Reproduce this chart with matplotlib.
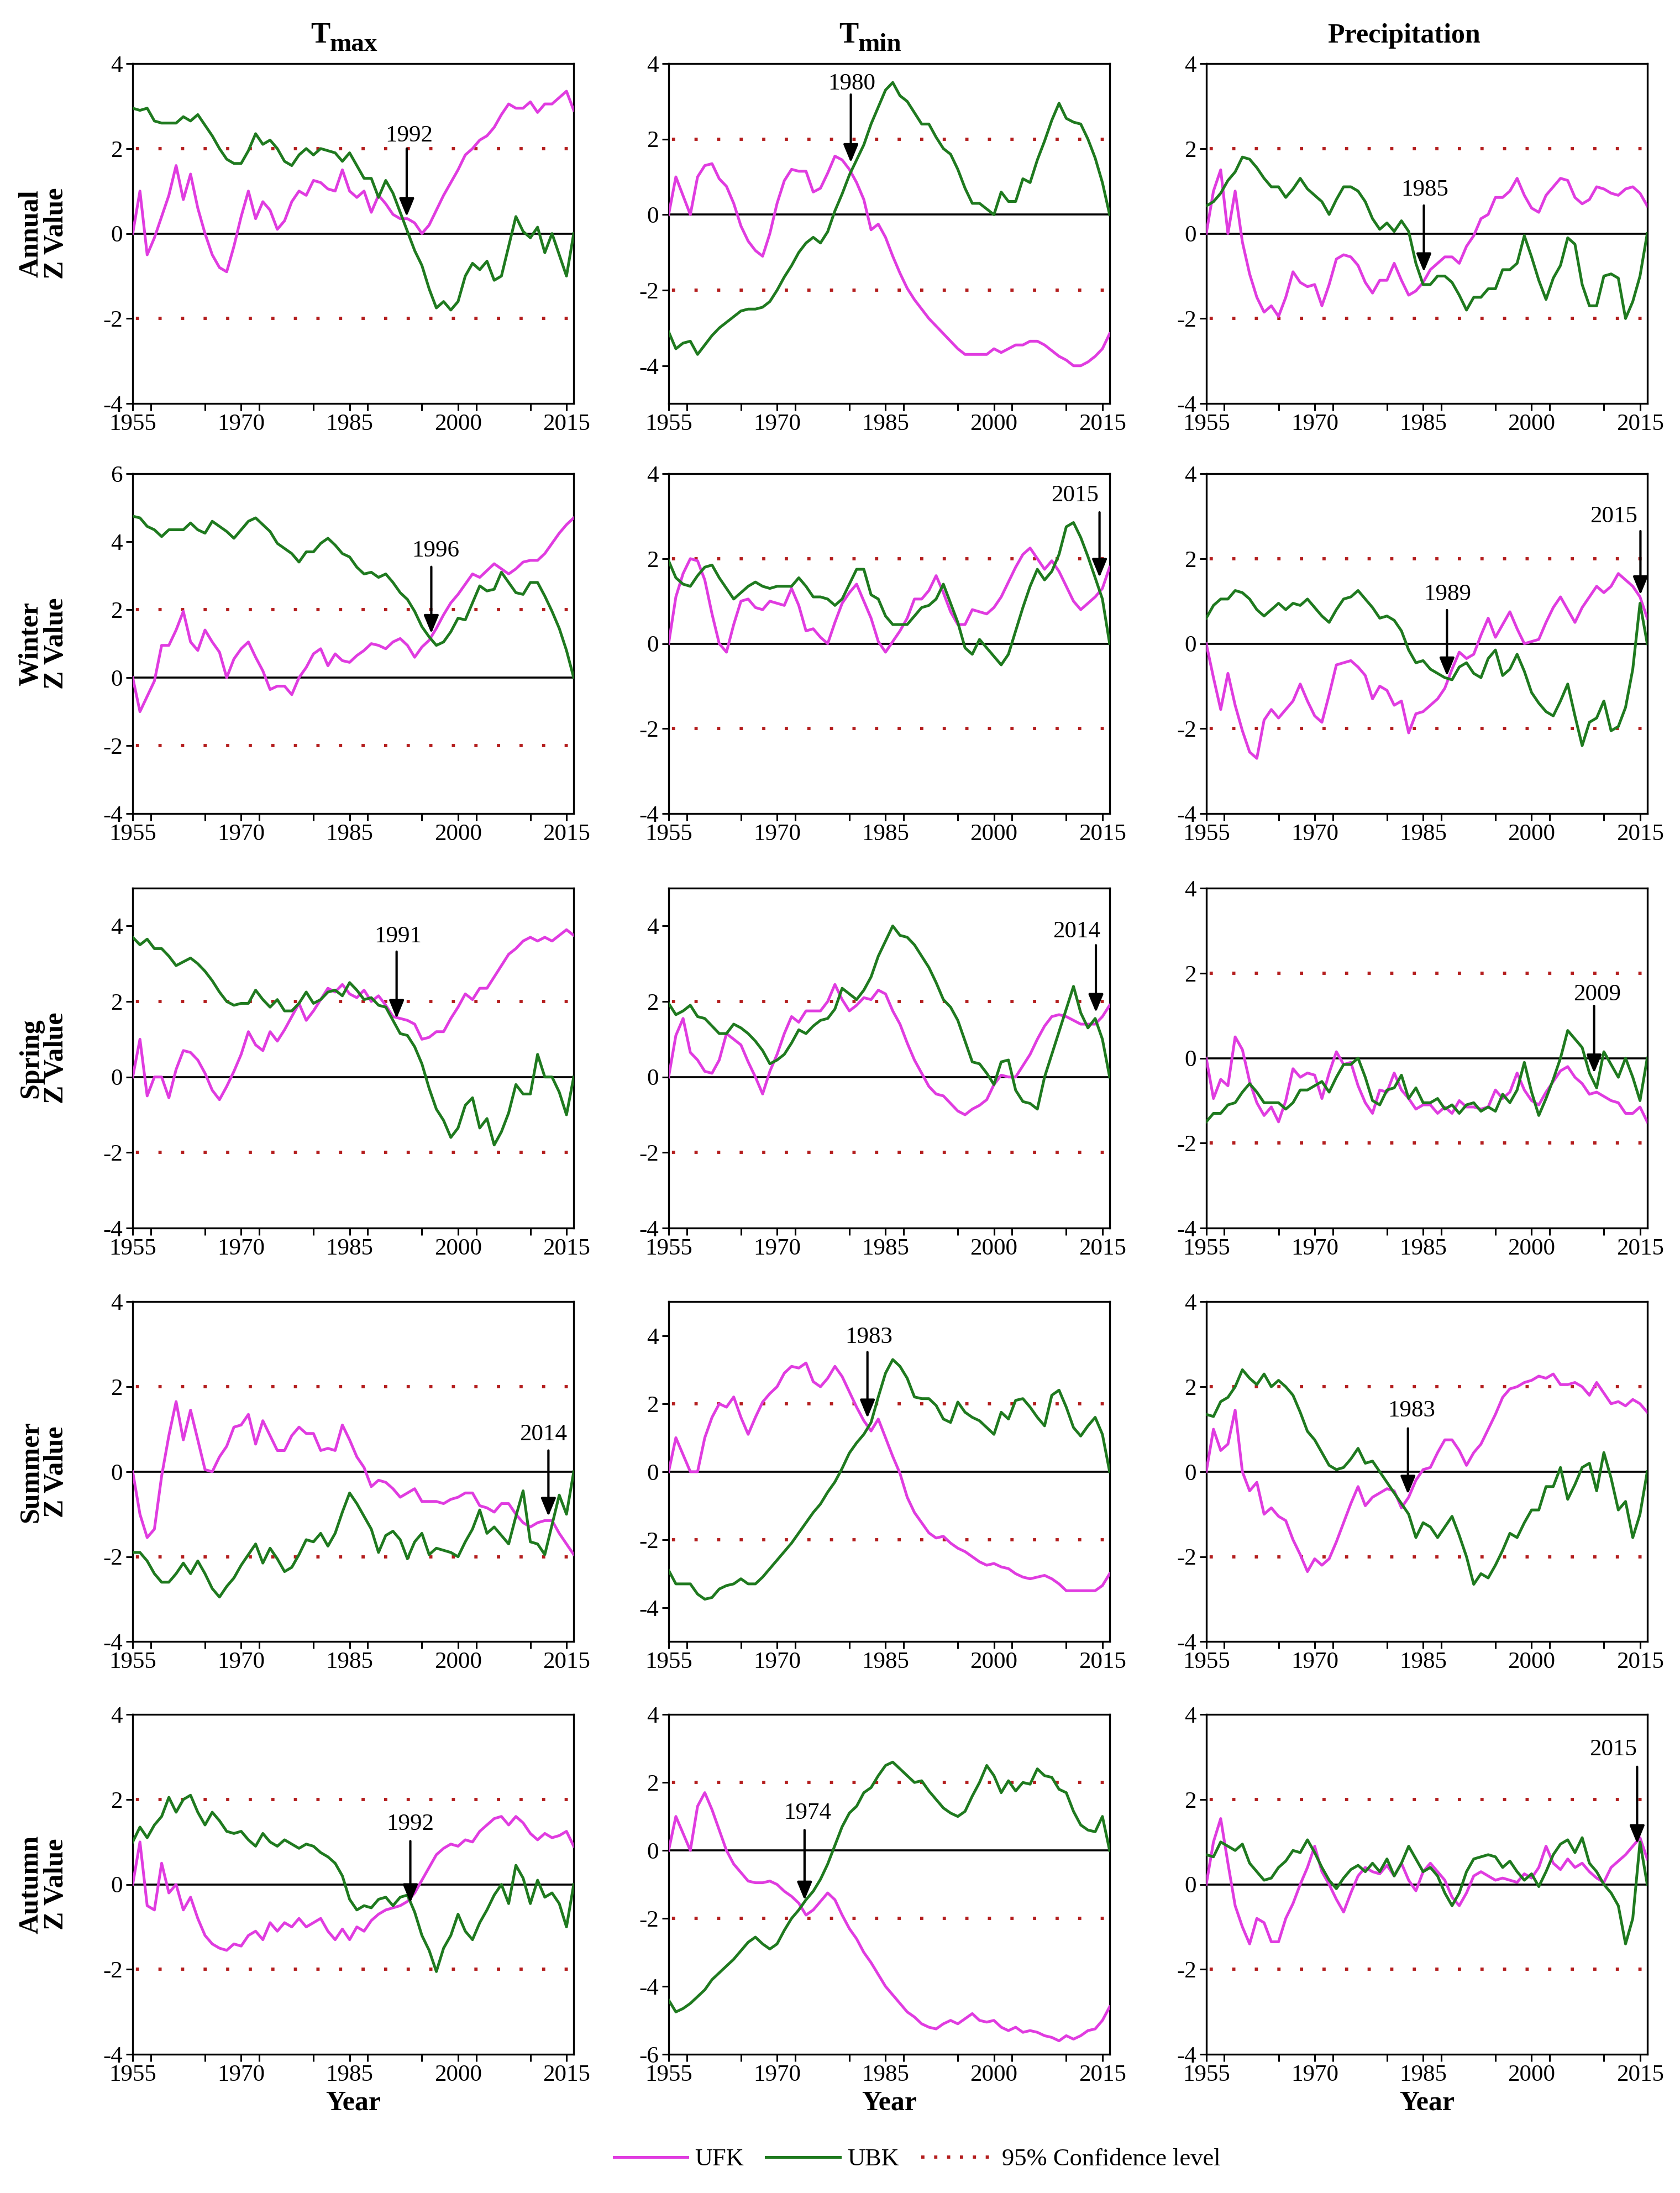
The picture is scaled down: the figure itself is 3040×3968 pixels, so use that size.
import numpy as np
import matplotlib
matplotlib.use("agg")
import matplotlib.pyplot as plt
from matplotlib.lines import Line2D
from matplotlib.ticker import MultipleLocator

YEARS = np.arange(1955, 2017)

# ---- Annual ----
annual_tmax_ufk = [0.0, 1.0, -0.5, -0.1, 0.4, 0.9, 1.6, 0.8, 1.4, 0.6,
                   0.0, -0.5, -0.8, -0.9, -0.3, 0.4, 1.0, 0.35, 0.75, 0.55,
                   0.1, 0.3, 0.75, 1.0, 0.9, 1.25, 1.2, 1.05, 1.0, 1.5,
                   1.0, 0.85, 1.0, 0.5, 0.9, 0.7, 0.45, 0.35, 0.35, 0.25,
                   0.0, 0.2, 0.55, 0.9, 1.2, 1.5, 1.85, 2.0, 2.2, 2.3,
                   2.5, 2.8, 3.05, 2.95, 2.95, 3.1, 2.85, 3.05, 3.05, 3.2,
                   3.35, 2.9]
annual_tmax_ubk = [2.95, 2.9, 2.95, 2.65, 2.6, 2.6, 2.6, 2.75, 2.65, 2.8,
                   2.55, 2.3, 2.0, 1.75, 1.65, 1.65, 1.95, 2.35, 2.1, 2.2,
                   2.0, 1.7, 1.6, 1.85, 2.0, 1.85, 2.0, 1.95, 1.9, 1.7,
                   1.9, 1.6, 1.3, 1.3, 0.85, 1.25, 0.95, 0.5, 0.05, -0.4,
                   -0.75, -1.3, -1.75, -1.6, -1.8, -1.6, -1.0, -0.7, -0.85, -0.65,
                   -1.1, -1.0, -0.3, 0.4, 0.05, -0.1, 0.15, -0.45, 0.0, -0.5,
                   -1.0, 0.0]
annual_tmin_ufk = [0.0, 1.0, 0.5, 0.0, 1.0, 1.3, 1.35, 0.95, 0.75, 0.3,
                   -0.3, -0.7, -0.95, -1.1, -0.5, 0.3, 0.9, 1.2, 1.15, 1.15,
                   0.6, 0.7, 1.1, 1.55, 1.45, 1.2, 0.85, 0.4, -0.4, -0.25,
                   -0.6, -1.1, -1.55, -1.95, -2.25, -2.5, -2.75, -2.95, -3.15, -3.35,
                   -3.55, -3.7, -3.7, -3.7, -3.7, -3.55, -3.65, -3.55, -3.45, -3.45,
                   -3.35, -3.35, -3.45, -3.6, -3.75, -3.85, -4.0, -4.0, -3.9, -3.75,
                   -3.55, -3.15]
annual_tmin_ubk = [-3.1, -3.55, -3.4, -3.35, -3.7, -3.45, -3.2, -3.0, -2.85, -2.7,
                   -2.55, -2.5, -2.5, -2.45, -2.3, -2.0, -1.65, -1.35, -1.0, -0.75,
                   -0.6, -0.75, -0.45, 0.1, 0.55, 1.05, 1.45, 1.85, 2.4, 2.85,
                   3.3, 3.5, 3.15, 3.0, 2.7, 2.4, 2.4, 2.05, 1.75, 1.6,
                   1.2, 0.7, 0.3, 0.3, 0.15, 0.0, 0.6, 0.35, 0.35, 0.95,
                   0.85, 1.45, 1.95, 2.5, 2.95, 2.55, 2.45, 2.4, 2.0, 1.5,
                   0.85, 0.0]
annual_prec_ufk = [0.0, 1.0, 1.5, 0.0, 1.0, -0.2, -0.95, -1.5, -1.85, -1.7,
                   -1.95, -1.5, -0.9, -1.15, -1.25, -1.2, -1.7, -1.2, -0.6, -0.5,
                   -0.55, -0.75, -1.15, -1.4, -1.1, -1.1, -0.7, -1.1, -1.45, -1.35,
                   -1.15, -0.85, -0.7, -0.55, -0.55, -0.7, -0.3, -0.05, 0.35, 0.45,
                   0.85, 0.85, 1.0, 1.3, 0.9, 0.6, 0.5, 0.9, 1.1, 1.3,
                   1.25, 0.85, 0.7, 0.8, 1.1, 1.05, 0.95, 0.9, 1.05, 1.1,
                   0.95, 0.65]
annual_prec_ubk = [0.65, 0.75, 0.95, 1.25, 1.45, 1.8, 1.75, 1.55, 1.3, 1.1,
                   1.1, 0.85, 1.05, 1.3, 1.05, 0.9, 0.75, 0.45, 0.8, 1.1,
                   1.1, 1.0, 0.75, 0.35, 0.1, 0.25, 0.05, 0.3, 0.05, -0.7,
                   -1.2, -1.2, -1.0, -1.0, -1.15, -1.45, -1.8, -1.5, -1.5, -1.3,
                   -1.3, -0.85, -0.85, -0.7, -0.05, -0.55, -1.1, -1.55, -1.05, -0.75,
                   -0.1, -0.25, -1.2, -1.7, -1.7, -1.0, -0.95, -1.05, -2.0, -1.6,
                   -1.0, 0.0]

# ---- Winter ----
winter_tmax_ufk = [0.0, -1.0, -0.55, -0.1, 0.95, 0.95, 1.4, 1.95, 1.05, 0.8,
                   1.4, 1.05, 0.75, 0.0, 0.55, 0.85, 1.05, 0.6, 0.2, -0.35,
                   -0.25, -0.25, -0.5, 0.0, 0.3, 0.7, 0.85, 0.35, 0.7, 0.5,
                   0.45, 0.65, 0.8, 1.0, 0.95, 0.85, 1.05, 1.15, 0.95, 0.6,
                   0.9, 1.1, 1.45, 1.85, 2.2, 2.45, 2.75, 3.05, 2.95, 3.15,
                   3.35, 3.2, 3.05, 3.2, 3.4, 3.45, 3.45, 3.65, 3.95, 4.25,
                   4.5, 4.7]
winter_tmax_ubk = [4.75, 4.7, 4.45, 4.35, 4.15, 4.35, 4.35, 4.35, 4.55, 4.35,
                   4.25, 4.6, 4.45, 4.3, 4.1, 4.35, 4.6, 4.7, 4.5, 4.3,
                   3.95, 3.8, 3.65, 3.4, 3.7, 3.7, 3.95, 4.1, 3.9, 3.65,
                   3.55, 3.25, 3.05, 3.1, 2.95, 3.05, 2.8, 2.5, 2.3, 1.95,
                   1.5, 1.2, 0.95, 1.05, 1.35, 1.75, 1.7, 2.2, 2.7, 2.55,
                   2.6, 3.1, 2.8, 2.5, 2.45, 2.8, 2.8, 2.4, 1.95, 1.45,
                   0.8, 0.0]
winter_tmin_ufk = [0.0, 1.1, 1.65, 2.0, 1.95, 1.5, 0.7, 0.0, -0.2, 0.45,
                   1.0, 1.05, 0.85, 0.8, 1.0, 0.95, 0.9, 1.3, 0.9, 0.3,
                   0.35, 0.15, 0.0, 0.5, 0.95, 1.2, 1.4, 1.0, 0.6, 0.05,
                   -0.2, 0.05, 0.3, 0.6, 1.05, 1.05, 1.25, 1.6, 1.2, 0.75,
                   0.45, 0.45, 0.8, 0.75, 0.7, 0.85, 1.1, 1.45, 1.8, 2.1,
                   2.25, 2.0, 1.75, 1.95, 1.7, 1.35, 1.0, 0.8, 0.95, 1.1,
                   1.3, 1.8]
winter_tmin_ubk = [1.95, 1.55, 1.4, 1.35, 1.6, 1.8, 1.85, 1.55, 1.3, 1.05,
                   1.2, 1.35, 1.45, 1.35, 1.3, 1.35, 1.35, 1.35, 1.55, 1.35,
                   1.1, 1.1, 1.05, 0.9, 1.05, 1.4, 1.75, 1.75, 1.15, 1.05,
                   0.65, 0.45, 0.45, 0.45, 0.65, 0.85, 0.9, 1.05, 1.4, 0.95,
                   0.5, -0.1, -0.25, 0.1, -0.1, -0.3, -0.5, -0.25, 0.3, 0.85,
                   1.35, 1.75, 1.5, 1.7, 2.1, 2.75, 2.85, 2.5, 2.05, 1.55,
                   1.05, 0.0]
winter_prec_ufk = [0.0, -0.8, -1.55, -0.7, -1.45, -2.05, -2.55, -2.7, -1.8, -1.55,
                   -1.75, -1.55, -1.35, -0.95, -1.35, -1.7, -1.85, -1.2, -0.5, -0.45,
                   -0.4, -0.55, -0.75, -1.3, -1.0, -1.1, -1.45, -1.35, -2.1, -1.65,
                   -1.6, -1.45, -1.3, -1.05, -0.6, -0.2, -0.35, -0.25, 0.2, 0.6,
                   0.15, 0.45, 0.75, 0.35, 0.0, 0.05, 0.1, 0.5, 0.85, 1.1,
                   0.8, 0.5, 0.85, 1.1, 1.35, 1.2, 1.35, 1.65, 1.5, 1.35,
                   1.1, 0.6]
winter_prec_ubk = [0.6, 0.9, 1.05, 1.05, 1.25, 1.2, 1.05, 0.8, 0.65, 0.8,
                   0.95, 0.8, 0.95, 0.9, 1.05, 0.85, 0.65, 0.5, 0.8, 1.05,
                   1.1, 1.25, 1.05, 0.85, 0.6, 0.65, 0.55, 0.3, -0.15, -0.45,
                   -0.4, -0.6, -0.7, -0.8, -0.85, -0.55, -0.45, -0.7, -0.8, -0.35,
                   -0.15, -0.75, -0.6, -0.25, -0.65, -1.15, -1.4, -1.6, -1.7, -1.35,
                   -0.95, -1.7, -2.4, -1.85, -1.75, -1.35, -2.05, -1.95, -1.5, -0.6,
                   0.95, 0.0]

# ---- Spring ----
spring_tmax_ufk = [0.0, 1.0, -0.5, 0.0, 0.0, -0.55, 0.2, 0.7, 0.65, 0.45,
                   0.1, -0.35, -0.6, -0.25, 0.15, 0.6, 1.2, 0.85, 0.7, 1.2,
                   0.95, 1.25, 1.6, 1.95, 1.5, 1.75, 2.05, 2.35, 2.25, 2.45,
                   2.2, 2.1, 2.3, 2.0, 2.15, 1.9, 1.6, 1.55, 1.5, 1.4,
                   1.0, 1.05, 1.2, 1.2, 1.55, 1.85, 2.2, 2.05, 2.35, 2.35,
                   2.65, 2.95, 3.25, 3.4, 3.6, 3.7, 3.6, 3.7, 3.6, 3.75,
                   3.9, 3.75]
spring_tmax_ubk = [3.7, 3.5, 3.65, 3.4, 3.4, 3.2, 2.95, 3.05, 3.15, 3.0,
                   2.8, 2.55, 2.25, 2.0, 1.9, 1.95, 1.95, 2.3, 2.05, 1.85,
                   2.05, 1.75, 1.75, 1.95, 2.25, 1.95, 2.05, 2.25, 2.3, 2.15,
                   2.5, 2.3, 2.05, 2.1, 1.9, 1.85, 1.5, 1.15, 1.1, 0.8,
                   0.35, -0.3, -0.85, -1.15, -1.6, -1.35, -0.75, -0.55, -1.35, -1.1,
                   -1.8, -1.45, -0.95, -0.2, -0.45, -0.45, 0.6, 0.0, 0.0, -0.4,
                   -1.0, 0.0]
spring_tmin_ufk = [0.0, 1.1, 1.55, 0.65, 0.45, 0.15, 0.1, 0.45, 1.15, 1.0,
                   0.85, 0.4, 0.0, -0.45, 0.15, 0.6, 1.15, 1.6, 1.45, 1.75,
                   1.75, 1.75, 2.0, 2.45, 2.05, 1.75, 1.9, 2.1, 2.05, 2.3,
                   2.2, 1.75, 1.4, 0.9, 0.45, 0.1, -0.25, -0.45, -0.5, -0.7,
                   -0.9, -1.0, -0.85, -0.75, -0.6, -0.2, 0.05, 0.0, 0.0, 0.3,
                   0.6, 1.0, 1.35, 1.6, 1.65, 1.6, 1.5, 1.4, 1.4, 1.4,
                   1.6, 1.9]
spring_tmin_ubk = [1.95, 1.65, 1.75, 1.9, 1.6, 1.55, 1.35, 1.15, 1.15, 1.4,
                   1.3, 1.15, 0.95, 0.7, 0.35, 0.45, 0.6, 0.9, 1.25, 1.15,
                   1.35, 1.5, 1.55, 1.8, 2.35, 2.2, 2.05, 2.3, 2.65, 3.2,
                   3.6, 4.0, 3.75, 3.7, 3.5, 3.2, 2.9, 2.5, 2.05, 1.85,
                   1.5, 0.95, 0.4, 0.35, 0.1, -0.2, 0.4, 0.45, -0.35, -0.65,
                   -0.7, -0.85, 0.0, 0.6, 1.2, 1.8, 2.4, 1.7, 1.3, 1.55,
                   1.0, 0.0]
spring_prec_ufk = [0.0, -0.95, -0.5, -0.65, 0.5, 0.2, -0.55, -1.05, -1.35, -1.15,
                   -1.5, -1.0, -0.25, -0.45, -0.35, -0.4, -0.95, -0.35, 0.15, -0.15,
                   -0.1, -0.65, -1.05, -1.3, -0.75, -0.8, -0.35, -0.75, -0.95, -1.2,
                   -1.1, -1.1, -1.3, -1.15, -1.3, -1.0, -1.15, -1.15, -1.2, -1.15,
                   -0.75, -0.95, -0.8, -0.35, -0.75, -1.0, -1.1, -0.8, -0.55, -0.3,
                   -0.2, -0.45, -0.6, -0.85, -0.8, -0.9, -1.0, -1.05, -1.3, -1.3,
                   -1.15, -1.5]
spring_prec_ubk = [-1.5, -1.3, -1.3, -1.1, -1.05, -0.8, -0.6, -0.8, -1.05, -1.05,
                   -1.05, -1.2, -1.05, -0.75, -0.75, -0.65, -0.55, -0.8, -0.45, -0.15,
                   -0.15, 0.0, -0.45, -1.0, -1.1, -0.75, -0.7, -0.4, -0.95, -0.7,
                   -1.05, -1.05, -0.95, -1.2, -1.1, -1.3, -1.1, -1.05, -1.25, -1.15,
                   -1.25, -0.85, -1.05, -0.75, -0.1, -0.8, -1.35, -0.95, -0.5, 0.0,
                   0.65, 0.45, 0.25, -0.35, -0.7, 0.15, -0.15, -0.45, 0.0, -0.45,
                   -1.0, 0.0]

# ---- Summer ----
summer_tmax_ufk = [0.0, -1.0, -1.55, -1.35, -0.1, 0.85, 1.65, 0.75, 1.45, 0.75,
                   0.05, 0.0, 0.35, 0.6, 1.05, 1.1, 1.35, 0.65, 1.2, 0.85,
                   0.5, 0.5, 0.85, 1.05, 0.9, 0.9, 0.5, 0.55, 0.5, 1.1,
                   0.75, 0.35, 0.1, -0.35, -0.2, -0.25, -0.4, -0.6, -0.5, -0.4,
                   -0.7, -0.7, -0.7, -0.75, -0.65, -0.6, -0.5, -0.5, -0.8, -0.85,
                   -0.95, -0.75, -0.75, -1.0, -1.2, -1.3, -1.2, -1.15, -1.15, -1.45,
                   -1.7, -1.95]
summer_tmax_ubk = [-1.9, -1.9, -2.1, -2.4, -2.6, -2.6, -2.4, -2.15, -2.4, -2.1,
                   -2.4, -2.75, -2.95, -2.7, -2.5, -2.2, -1.95, -1.7, -2.15, -1.8,
                   -2.05, -2.35, -2.25, -1.95, -1.6, -1.65, -1.45, -1.75, -1.45, -0.95,
                   -0.5, -0.75, -1.05, -1.35, -1.9, -1.5, -1.4, -1.6, -2.05, -1.65,
                   -1.45, -1.95, -1.8, -1.85, -1.9, -2.0, -1.65, -1.35, -0.9, -1.45,
                   -1.3, -1.5, -1.7, -1.05, -0.45, -1.65, -1.7, -1.95, -1.25, -0.55,
                   -1.0, 0.0]
summer_tmin_ufk = [0.0, 1.0, 0.5, 0.0, 0.0, 1.0, 1.6, 2.0, 1.9, 2.2,
                   1.6, 1.1, 1.6, 2.05, 2.3, 2.5, 2.9, 3.1, 3.05, 3.2,
                   2.65, 2.5, 2.75, 3.1, 2.8, 2.35, 1.9, 1.5, 1.2, 1.55,
                   1.0, 0.45, -0.05, -0.75, -1.2, -1.5, -1.8, -1.95, -1.9, -2.1,
                   -2.25, -2.35, -2.5, -2.65, -2.75, -2.7, -2.8, -2.85, -3.0, -3.1,
                   -3.15, -3.1, -3.05, -3.15, -3.3, -3.5, -3.5, -3.5, -3.5, -3.5,
                   -3.35, -3.0]
summer_tmin_ubk = [-2.9, -3.3, -3.3, -3.3, -3.6, -3.75, -3.7, -3.45, -3.35, -3.3,
                   -3.15, -3.3, -3.3, -3.1, -2.85, -2.6, -2.35, -2.1, -1.8, -1.5,
                   -1.2, -0.95, -0.6, -0.3, 0.1, 0.55, 0.85, 1.1, 1.45, 2.2,
                   2.9, 3.3, 3.1, 2.75, 2.2, 2.15, 2.15, 1.95, 1.55, 1.45,
                   2.05, 1.75, 1.6, 1.5, 1.3, 1.1, 1.75, 1.55, 2.1, 2.15,
                   1.9, 1.6, 1.35, 2.25, 2.4, 1.9, 1.3, 1.05, 1.35, 1.6,
                   1.1, 0.0]
summer_prec_ufk = [0.0, 1.0, 0.5, 0.65, 1.45, 0.0, -0.45, -0.25, -1.0, -0.85,
                   -1.05, -1.15, -1.6, -1.95, -2.35, -2.05, -2.2, -2.05, -1.65, -1.2,
                   -0.75, -0.35, -0.8, -0.6, -0.5, -0.4, -0.45, -0.85, -0.6, -0.2,
                   0.05, 0.1, 0.45, 0.75, 0.75, 0.5, 0.15, 0.45, 0.65, 1.0,
                   1.35, 1.75, 1.95, 2.0, 2.1, 2.15, 2.25, 2.2, 2.3, 2.05,
                   2.05, 2.1, 2.0, 1.8, 2.1, 1.85, 1.6, 1.65, 1.55, 1.7,
                   1.6, 1.4]
summer_prec_ubk = [1.35, 1.3, 1.65, 1.75, 2.0, 2.4, 2.2, 2.05, 2.3, 2.0,
                   2.15, 2.0, 1.8, 1.4, 0.95, 0.75, 0.45, 0.15, 0.05, 0.1,
                   0.3, 0.55, 0.2, 0.25, 0.0, -0.25, -0.5, -0.75, -1.0, -1.55,
                   -1.2, -1.3, -1.55, -1.3, -1.05, -1.5, -2.0, -2.65, -2.4, -2.5,
                   -2.2, -1.85, -1.45, -1.55, -1.2, -0.9, -0.9, -0.35, -0.35, 0.1,
                   -0.65, -0.3, 0.1, 0.2, -0.45, 0.45, -0.15, -0.9, -0.7, -1.55,
                   -1.0, 0.0]

# ---- Autumn ----
autumn_tmax_ufk = [0.0, 1.0, -0.5, -0.6, 0.5, -0.2, 0.0, -0.6, -0.3, -0.8,
                   -1.2, -1.4, -1.5, -1.55, -1.4, -1.45, -1.2, -1.1, -1.3, -0.9,
                   -1.1, -0.9, -1.0, -0.8, -1.0, -0.9, -0.8, -1.1, -1.3, -1.05,
                   -1.3, -1.0, -1.1, -0.85, -0.7, -0.6, -0.55, -0.5, -0.4, -0.2,
                   0.1, 0.4, 0.7, 0.85, 0.95, 0.9, 1.05, 1.0, 1.25, 1.4,
                   1.55, 1.6, 1.4, 1.6, 1.45, 1.2, 1.05, 1.2, 1.1, 1.15,
                   1.25, 0.9]
autumn_tmax_ubk = [1.0, 1.35, 1.1, 1.4, 1.6, 2.05, 1.7, 2.0, 2.1, 1.7,
                   1.4, 1.7, 1.5, 1.25, 1.2, 1.25, 1.05, 0.9, 1.2, 1.0,
                   0.9, 1.05, 0.95, 0.85, 0.95, 0.9, 0.75, 0.65, 0.5, 0.2,
                   -0.35, -0.6, -0.5, -0.55, -0.35, -0.3, -0.5, -0.3, -0.25, -0.65,
                   -1.2, -1.55, -2.05, -1.5, -1.2, -0.7, -1.1, -1.3, -0.9, -0.6,
                   -0.25, 0.0, -0.45, 0.45, 0.15, -0.45, 0.1, -0.3, -0.2, -0.45,
                   -1.0, 0.0]
autumn_tmin_ufk = [0.0, 1.0, 0.5, 0.0, 1.3, 1.7, 1.2, 0.6, 0.0, -0.4,
                   -0.65, -0.9, -0.95, -0.95, -0.9, -1.0, -1.2, -1.35, -1.55, -1.9,
                   -1.75, -1.5, -1.25, -1.45, -1.9, -2.3, -2.6, -3.0, -3.3, -3.65,
                   -4.0, -4.25, -4.5, -4.75, -4.9, -5.1, -5.2, -5.25, -5.1, -5.0,
                   -5.1, -4.95, -4.8, -5.0, -5.05, -5.0, -5.2, -5.3, -5.2, -5.35,
                   -5.3, -5.35, -5.45, -5.5, -5.6, -5.45, -5.55, -5.45, -5.3, -5.25,
                   -5.0, -4.6]
autumn_tmin_ubk = [-4.4, -4.75, -4.65, -4.5, -4.3, -4.1, -3.8, -3.6, -3.4, -3.2,
                   -2.95, -2.7, -2.55, -2.75, -2.9, -2.75, -2.35, -2.0, -1.75, -1.45,
                   -1.2, -0.85, -0.4, 0.15, 0.7, 1.1, 1.3, 1.7, 1.85, 2.2,
                   2.5, 2.6, 2.4, 2.2, 2.0, 2.05, 1.75, 1.5, 1.25, 1.1,
                   1.0, 1.15, 1.6, 2.0, 2.5, 2.2, 1.7, 2.05, 1.75, 2.0,
                   1.95, 2.4, 2.2, 2.15, 1.8, 1.7, 1.15, 0.75, 0.6, 0.55,
                   1.0, 0.0]
autumn_prec_ufk = [0.0, 1.0, 1.55, 0.5, -0.5, -1.0, -1.4, -0.8, -0.9, -1.35,
                   -1.35, -0.8, -0.45, 0.0, 0.4, 0.9, 0.3, 0.0, -0.35, -0.65,
                   -0.2, 0.2, 0.4, 0.3, 0.25, 0.45, 0.2, 0.5, 0.1, -0.15,
                   0.3, 0.5, 0.3, 0.1, -0.3, -0.5, -0.2, 0.2, 0.3, 0.2,
                   0.1, 0.15, 0.1, 0.05, 0.25, 0.15, 0.4, 0.9, 0.5, 0.35,
                   0.6, 0.4, 0.5, 0.3, 0.15, 0.05, 0.4, 0.55, 0.7, 0.9,
                   1.1, 0.6]
autumn_prec_ubk = [0.7, 0.65, 1.0, 0.9, 0.8, 0.95, 0.5, 0.3, 0.1, 0.15,
                   0.4, 0.55, 0.8, 0.75, 1.05, 0.75, 0.4, 0.1, -0.1, 0.15,
                   0.35, 0.45, 0.3, 0.5, 0.3, 0.6, 0.2, 0.5, 0.9, 0.6,
                   0.3, 0.4, 0.2, -0.2, -0.5, -0.2, 0.3, 0.6, 0.65, 0.7,
                   0.65, 0.4, 0.55, 0.3, 0.1, 0.25, -0.05, 0.3, 0.7, 0.95,
                   1.05, 0.75, 1.1, 0.5, 0.3, 0.0, -0.2, -0.5, -1.4, -0.8,
                   1.0, 0.0]

SEASONS = ["Annual", "Winter", "Spring", "Summer", "Autumn"]
# column titles: (main text, lowered part)
COLUMN_TITLES = [("T", "max"), ("T", "min"), ("Precipitation", "")]

SERIES = [
    [(annual_tmax_ufk, annual_tmax_ubk), (annual_tmin_ufk, annual_tmin_ubk), (annual_prec_ufk, annual_prec_ubk)],
    [(winter_tmax_ufk, winter_tmax_ubk), (winter_tmin_ufk, winter_tmin_ubk), (winter_prec_ufk, winter_prec_ubk)],
    [(spring_tmax_ufk, spring_tmax_ubk), (spring_tmin_ufk, spring_tmin_ubk), (spring_prec_ufk, spring_prec_ubk)],
    [(summer_tmax_ufk, summer_tmax_ubk), (summer_tmin_ufk, summer_tmin_ubk), (summer_prec_ufk, summer_prec_ubk)],
    [(autumn_tmax_ufk, autumn_tmax_ubk), (autumn_tmin_ufk, autumn_tmin_ubk), (autumn_prec_ufk, autumn_prec_ubk)],
]

# y-axis limits for every panel (row, column)
Y_LIMITS = [
    [(-4, 4), (-5, 4), (-4, 4)],
    [(-4, 6), (-4, 4), (-4, 4)],
    [(-4, 5), (-4, 5), (-4, 4)],
    [(-4, 4), (-5, 5), (-4, 4)],
    [(-4, 4), (-6, 4), (-4, 4)],
]

# change point marks: (label, arrow x, arrow top, arrow tip, text x, text y)
CHANGE_POINTS = [
    [[("1992", 1992.9, 2.0, 0.4, 1993.2, 2.3)],
     [("1980", 1980.2, 3.18, 1.38, 1980.35, 3.46)],
     [("1985", 1985.1, 0.66, -0.9, 1985.2, 1.03)]],
    [[("1996", 1996.3, 3.26, 1.3, 1996.9, 3.73)],
     [("2015", 2014.6, 3.09, 1.56, 2011.2, 3.48)],
     [("1989", 1988.3, 0.79, -0.76, 1988.4, 1.15), ("2015", 2015.06, 2.65, 1.15, 2011.4, 2.99)]],
    [[("1991", 1991.5, 3.32, 1.55, 1991.7, 3.72)],
     [("2014", 2014.1, 3.49, 1.71, 2011.4, 3.85)],
     [("2009", 2008.65, 1.23, -0.35, 2009.1, 1.49)]],
    [[("2014", 2012.5, 0.5, -1.05, 2011.8, 0.88)],
     [("1983", 1982.5, 3.52, 1.58, 1982.7, 3.96)],
     [("1983", 1982.9, 1.02, -0.53, 1983.4, 1.43)]],
    [[("1992", 1993.4, 1.02, -0.43, 1993.4, 1.42)],
     [("1974", 1973.8, 0.6, -1.46, 1974.2, 1.1)],
     [("2015", 2014.6, 2.77, 0.96, 2011.3, 3.17)]],
]

UFK_COLOR = "#E03CE0"
UBK_COLOR = "#1F7A1F"
CONF_COLOR = "#B41E1E"

plt.rcParams["font.family"] = ["Liberation Serif", "DejaVu Serif"]
plt.rcParams["axes.unicode_minus"] = False

fig = plt.figure(figsize=(30.4, 39.68), dpi=100)

col_left = [0.079, 0.398, 0.718]
row_bottom = [0.816, 0.629, 0.440, 0.2514, 0.0632]
ax_w, ax_h = 0.2625, 0.155

tick_fs = 31
label_fs = 36

for r in range(5):
    for c in range(3):
        ax = fig.add_axes([col_left[c], row_bottom[r], ax_w, ax_h])
        ufk, ubk = SERIES[r][c]
        ax.plot(YEARS, ufk, color=UFK_COLOR, lw=3.6, zorder=3)
        ax.plot(YEARS, ubk, color=UBK_COLOR, lw=3.6, zorder=3)
        ax.axhline(0, color="black", lw=2.6, zorder=2)
        for lvl in (2, -2):
            ax.axhline(lvl, color=CONF_COLOR, lw=4.2, ls=(6.0, (1, 6.0)), zorder=1)

        ylo, yhi = Y_LIMITS[r][c]
        ax.set_ylim(ylo, yhi)
        ax.set_yticks(np.arange(ylo + (ylo % 2), yhi + 0.1, 2))
        ax.set_xlim(1955, 2016)
        ax.set_xticks([1955, 1970, 1985, 2000, 2015])
        ax.xaxis.set_minor_locator(MultipleLocator(7.5))
        ax.tick_params(axis="both", which="both", direction="out", length=9, width=2.2,
                       labelsize=tick_fs, pad=4, top=False, right=False)
        for sp in ax.spines.values():
            sp.set_linewidth(2.4)

        for label, ax_x, y_top, y_tip, tx, ty in CHANGE_POINTS[r][c]:
            ax.annotate("", xy=(ax_x, y_tip), xytext=(ax_x, y_top),
                        arrowprops=dict(arrowstyle="-|>,head_length=0.8,head_width=0.33",
                                        color="black", lw=3, mutation_scale=25,
                                        shrinkA=0, shrinkB=0), zorder=5)
            ax.text(tx, ty, label, ha="center", va="center", fontsize=tick_fs, zorder=5)

        if r == 4:
            ax.set_xlabel("Year", fontsize=label_fs, fontweight="bold", labelpad=6)
        if c == 0:
            fig.text(0.026, row_bottom[r] + ax_h / 2, SEASONS[r] + "\nZ Value", rotation=90,
                     ha="center", va="center", fontsize=label_fs, fontweight="bold",
                     multialignment="center", linespacing=1.0)

# column titles, the subscript part keeps nearly full size but sits lower
title_base = 0.9806
fig.text(0.1964, title_base, "T", ha="right", va="baseline", fontsize=38, fontweight="bold")
fig.text(0.1964, title_base - 0.0038, "max", ha="left", va="baseline", fontsize=34, fontweight="bold")
fig.text(0.5109, title_base, "T", ha="right", va="baseline", fontsize=38, fontweight="bold")
fig.text(0.5109, title_base - 0.0038, "min", ha="left", va="baseline", fontsize=34, fontweight="bold")
fig.text(0.8358, title_base, "Precipitation", ha="center", va="baseline", fontsize=36, fontweight="bold")

handles = [Line2D([], [], color=UFK_COLOR, lw=3.6),
           Line2D([], [], color=UBK_COLOR, lw=3.6),
           Line2D([], [], color=CONF_COLOR, lw=4.2, ls=(0, (1, 3)))]
fig.legend(handles, ["UFK", "UBK", "95% Confidence level"], loc="center",
           bbox_to_anchor=(0.546, 0.0153), ncol=3, frameon=False, fontsize=32,
           handlelength=3.0, handletextpad=0.3, columnspacing=0.9)

fig.savefig("out.png", dpi=100)
